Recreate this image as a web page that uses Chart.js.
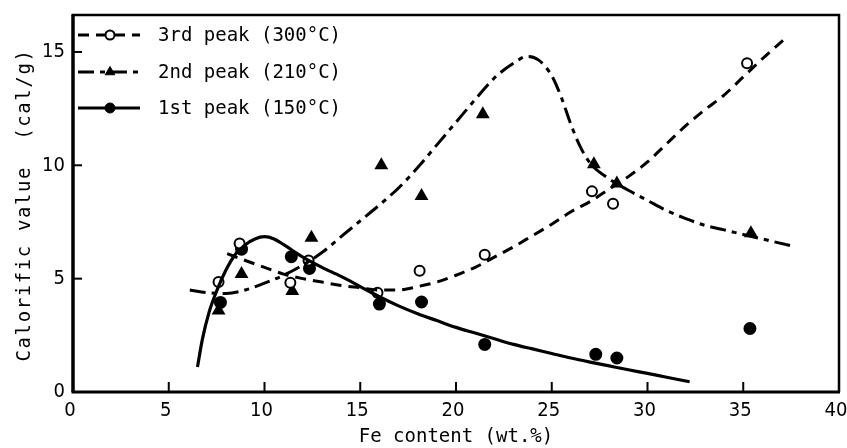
<!DOCTYPE html>
<html>
<head>
<meta charset="utf-8">
<script src="https://cdn.jsdelivr.net/npm/chart.js@4.4.1/dist/chart.umd.min.js"></script>
<style>
  html, body { margin: 0; padding: 0; background: #fff; }
  #wrap { width: 847px; height: 448px; }
</style>
</head>
<body>
<div id="wrap"><canvas id="c" width="847" height="448"></canvas></div>
<script>
// Axis ticks
const xTicks = [0, 5, 10, 15, 20, 25, 30, 35, 40];
const yTicks = [0, 5, 10, 15];

// Measured points: Fe content (wt.%) vs calorific value (cal/g)
const fe3 = [7.6, 8.7, 11.35, 12.3, 15.9, 18.1, 21.5, 27.1, 28.2, 35.2];
const cal3 = [4.85, 6.55, 4.82, 5.8, 4.38, 5.35, 6.05, 8.85, 8.3, 14.5];

const fe2 = [7.6, 8.8, 11.45, 12.45, 16.1, 18.2, 21.4, 27.2, 28.4, 35.4];
const cal2 = [3.6, 5.2, 4.45, 6.8, 10.0, 8.65, 12.25, 10.05, 9.2, 7.0];

const fe1 = [7.7, 8.8, 11.4, 12.35, 16.0, 18.2, 21.5, 27.3, 28.4, 35.35];
const cal1 = [3.95, 6.3, 5.97, 5.45, 3.88, 3.97, 2.1, 1.66, 1.5, 2.8];

// Fitted trend curves
const curve3X = [8.05, 9, 10, 11, 12, 13, 14, 15, 16, 17, 18, 19, 20, 21, 22, 23, 24, 25, 26, 27, 28, 29, 30, 31, 32, 33, 34, 35, 36, 37.2];
const curve3Y = [6.1, 5.8, 5.5, 5.2, 5.0, 4.85, 4.7, 4.6, 4.5, 4.5, 4.65, 4.85, 5.15, 5.5, 5.95, 6.4, 6.9, 7.4, 7.95, 8.4, 8.95, 9.5, 10.15, 10.95, 11.75, 12.45, 13.1, 13.9, 14.7, 15.6];

const curve2X = [6.1, 7, 8, 9, 10, 11, 12, 13, 14, 15, 16, 17, 18, 19, 20, 21, 22, 23, 23.7, 24.3, 25, 25.5, 26, 26.5, 27, 28, 29, 30, 31, 32, 33, 34, 35, 36, 37.5];
const curve2Y = [4.5, 4.38, 4.35, 4.5, 4.8, 5.15, 5.6, 6.15, 6.85, 7.55, 8.25, 9.0, 9.9, 10.9, 11.9, 12.9, 13.85, 14.5, 14.8, 14.65, 13.95, 13.0, 11.8, 10.8, 10.1, 9.4, 8.9, 8.45, 8.0, 7.65, 7.35, 7.15, 6.95, 6.75, 6.45];

const curve1X = [6.5, 6.75, 7.1, 7.5, 8.0, 8.5, 9.0, 9.5, 10.0, 10.5, 11, 12, 13, 14, 15, 16, 17, 18, 19, 20, 21, 22, 23, 24, 25, 26, 27, 28, 29, 30, 31, 32.2];
const curve1Y = [1.1, 2.3, 3.5, 4.45, 5.4, 6.1, 6.5, 6.75, 6.85, 6.75, 6.5, 5.95, 5.5, 5.1, 4.65, 4.2, 3.8, 3.45, 3.15, 2.85, 2.6, 2.35, 2.1, 1.9, 1.7, 1.5, 1.32, 1.15, 0.98, 0.82, 0.65, 0.45];

const seriesNames = ['3rd peak (300°C)', '2nd peak (210°C)', '1st peak (150°C)'];

const pairs = (xs, ys) => xs.map((x, i) => ({ x, y: ys[i] }));

const MONO = '"DejaVu Sans Mono", "Liberation Mono", monospace';
const NARROW = '"Liberation Sans Narrow", "DejaVu Sans Condensed", "Liberation Sans", sans-serif';

const dash3 = [11, 7];
const dash2 = [16, 6, 5, 6];

function curveSet(data, dash, width) {
  return {
    data, showLine: true, borderColor: '#000', borderWidth: width,
    borderDash: dash, pointRadius: 0, pointHoverRadius: 0,
    cubicInterpolationMode: 'monotone', fill: false
  };
}
function markSet(data, style, radius, fillColor) {
  return {
    data, showLine: false, pointStyle: style, pointRadius: radius,
    pointHoverRadius: radius, pointBackgroundColor: fillColor,
    pointBorderColor: '#000', pointBorderWidth: 2
  };
}

// Frame, inward ticks, legend and rotated y title
const decor = {
  id: 'decor',
  afterDraw(chart) {
    const { ctx, chartArea: a, scales } = chart;
    ctx.save();
    ctx.strokeStyle = '#000';
    ctx.lineCap = 'butt';
    // inward tick marks
    ctx.lineWidth = 2;
    xTicks.forEach(v => {
      if (v === 0 || v === 40) return;
      const px = scales.x.getPixelForValue(v);
      ctx.beginPath(); ctx.moveTo(px, a.bottom); ctx.lineTo(px, a.bottom - 10); ctx.stroke();
    });
    yTicks.forEach(v => {
      if (v === 0) return;
      const py = scales.y.getPixelForValue(v);
      ctx.beginPath(); ctx.moveTo(a.left, py); ctx.lineTo(a.left + 9, py); ctx.stroke();
    });
    // frame
    ctx.lineWidth = 3.5;
    ctx.beginPath(); ctx.moveTo(a.left, a.top); ctx.lineTo(a.left, a.bottom); ctx.stroke();
    ctx.lineWidth = 3;
    ctx.beginPath(); ctx.moveTo(a.left - 1.5, a.bottom); ctx.lineTo(a.right + 1, a.bottom); ctx.stroke();
    ctx.lineWidth = 2.5;
    ctx.beginPath(); ctx.moveTo(a.left - 1.5, a.top); ctx.lineTo(a.right, a.top); ctx.lineTo(a.right, a.bottom); ctx.stroke();

    // legend
    const rows = [a.top + 20, a.top + 57, a.top + 93];
    const styles = [
      { dash: dash3, point: { pointStyle: 'circle', radius: 4.5, borderWidth: 2 }, fill: '#fff' },
      { dash: dash2, point: { pointStyle: 'triangle', radius: 5.5, borderWidth: 1 }, fill: '#000' },
      { dash: [], point: { pointStyle: 'circle', radius: 5, borderWidth: 1 }, fill: '#000' }
    ];
    const x0 = a.left + 5, x1 = a.left + 67, xm = a.left + 37;
    rows.forEach((y, i) => {
      const s = styles[i];
      ctx.setLineDash(s.dash);
      ctx.lineWidth = 3;
      ctx.beginPath(); ctx.moveTo(x0, y); ctx.lineTo(x1, y); ctx.stroke();
      ctx.setLineDash([]);
      ctx.fillStyle = s.fill;
      ctx.lineWidth = s.point.borderWidth;
      Chart.helpers.drawPoint(ctx, s.point, xm, y);
      ctx.fillStyle = '#000';
      ctx.font = '19px ' + MONO;
      ctx.textAlign = 'left';
      ctx.textBaseline = 'middle';
      ctx.fillText(seriesNames[i], a.left + 85, y + 1);
    });

    // y axis title
    ctx.translate(25, 205);
    ctx.rotate(-Math.PI / 2);
    ctx.font = '19px ' + MONO;
    ctx.letterSpacing = '1.6px';
    ctx.textAlign = 'center';
    ctx.textBaseline = 'middle';
    ctx.fillStyle = '#000';
    ctx.fillText('Calorific value  (cal/g)', 0, 0);
    ctx.restore();
  }
};

new Chart(document.getElementById('c'), {
  type: 'scatter',
  data: {
    datasets: [
      curveSet(pairs(curve3X, curve3Y), dash3, 3),
      curveSet(pairs(curve2X, curve2Y), dash2, 3),
      curveSet(pairs(curve1X, curve1Y), [], 3.2),
      markSet(pairs(fe3, cal3), 'circle', 5, '#fff'),
      markSet(pairs(fe2, cal2), 'triangle', 6, '#000'),
      markSet(pairs(fe1, cal1), 'circle', 5.5, '#000')
    ]
  },
  options: {
    responsive: false,
    devicePixelRatio: 1,
    animation: false,
    layout: { padding: { top: 15, right: 5, left: 0, bottom: 0 } },
    plugins: { legend: { display: false }, tooltip: { enabled: false } },
    scales: {
      x: {
        type: 'linear', min: 0, max: 40,
        afterBuildTicks: s => { s.ticks = xTicks.map(v => ({ value: v })); },
        afterFit: s => { s.height = 56; s.paddingLeft = 0; s.paddingRight = 0; },
        grid: { display: false, drawTicks: false },
        border: { display: false },
        ticks: { color: '#000', font: { family: NARROW, size: 20 }, padding: 7, labelOffset: -3, maxRotation: 0, autoSkip: false },
        title: { display: true, text: 'Fe content (wt.%)', color: '#000', font: { family: MONO, size: 19 }, padding: { top: 0, bottom: 0 } }
      },
      y: {
        type: 'linear', min: 0, max: 16.63,
        afterBuildTicks: s => { s.ticks = yTicks.map(v => ({ value: v })); },
        afterFit: s => { s.width = 73; s.paddingTop = 0; s.paddingBottom = 0; },
        grid: { display: false, drawTicks: false },
        border: { display: false },
        ticks: { color: '#000', font: { family: NARROW, size: 20 }, padding: 8, autoSkip: false }
      }
    }
  },
  plugins: [decor]
});
</script>
</body>
</html>
